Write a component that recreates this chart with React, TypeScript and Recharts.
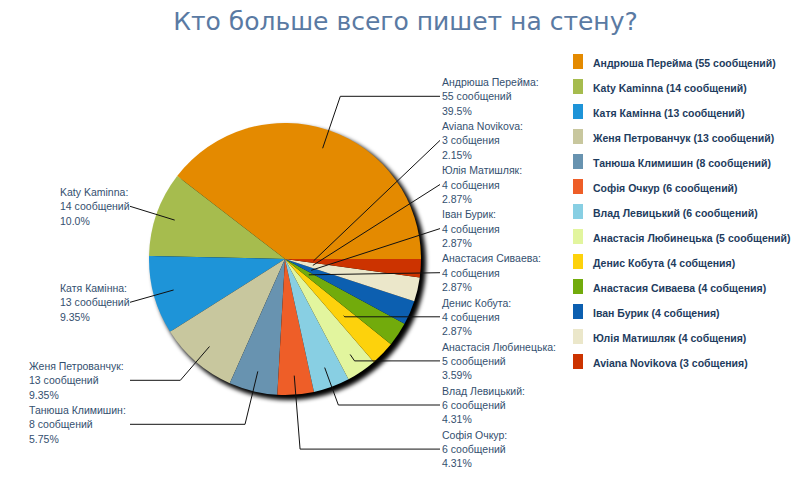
import { PieChart, Pie, Cell } from 'recharts'

const names = [
  'Андрюша Перейма',
  'Katy Kaminna',
  'Катя Камінна',
  'Женя Петрованчук',
  'Танюша Климишин',
  'Софія Очкур',
  'Влад Левицький',
  'Анастасія Любинецька',
  'Денис Кобута',
  'Анастасия Сиваева',
  'Іван Бурик',
  'Юлія Матишляк',
  'Aviana Novikova',
]
const counts = [55, 14, 13, 13, 8, 6, 6, 5, 4, 4, 4, 4, 3]
const units = [
  'сообщений', 'сообщений', 'сообщений', 'сообщений', 'сообщений', 'сообщений',
  'сообщений', 'сообщений', 'собщения', 'собщения', 'собщения', 'собщения', 'собщения',
]
const COLORS = [
  '#E48A00', '#A6BC4E', '#1E94D8', '#C8C79E', '#6893B0', '#EE5E28', '#88CFE3',
  '#E2F59E', '#FDD20C', '#72AB0C', '#0C5FB0', '#EBE7CA', '#CC3300',
]

const total = counts.reduce((a, b) => a + b, 0)
const data = names.map((name, i) => ({ name, value: counts[i] }))

// truncated to 3 significant digits, like the original
const fmtPct = (v: number) => {
  const p = (v / total) * 100
  const d = p >= 10 ? 1 : 2
  const k = Math.pow(10, d)
  return (Math.floor(p * k) / k).toFixed(d) + '%'
}

// label layout
const CX = 285
const CY = 259
const R = 136
const anchorFrac = [0.86, 0.86, 0.85, 0.85, 0.85, 0.86, 0.85, 0.85, 0.6, 0.21, 0.21, 0.21, 0.21]
const RIGHT_ORDER = [0, 12, 11, 10, 9, 8, 7, 6, 5]
const LEFT_POS: Record<number, { x: number; y: number }> = {
  1: { x: 60, y: 192 },
  2: { x: 60, y: 288 },
  3: { x: 29, y: 366 },
  4: { x: 29, y: 410 },
}
const RIGHT_X = 442
const LEFT_LINE_X = 130
const LINE_H = 14.3
const TEXT_COLOR = '#34506f'
const LABEL_FONT = '"Liberation Sans", Arial, sans-serif'
const TITLE_FONT = '"DejaVu Sans", Verdana, sans-serif'

const RADIAN = Math.PI / 180

function renderLabel(props: any) {
  const { cx, cy, midAngle, outerRadius, index } = props
  const r = outerRadius * anchorFrac[index]
  const dx = Math.cos(-midAngle * RADIAN)
  const dy = Math.sin(-midAngle * RADIAN)
  const ax = cx + r * dx
  const ay = cy + r * dy

  const isLeft = LEFT_POS[index] !== undefined
  const tx = isLeft ? LEFT_POS[index].x : RIGHT_X
  const ty = isLeft ? LEFT_POS[index].y : 82 + RIGHT_ORDER.indexOf(index) * 44.1
  const lineY = ty + LINE_H
  const endX = isLeft ? LEFT_LINE_X : RIGHT_X - 2

  let points = `${ax},${ay} ${endX},${lineY}`
  const t = Math.abs(dy) > 0.01 ? (lineY - ay) / dy : -1
  if (t >= 0) {
    let ex = ax + t * dx
    if (isLeft) ex = Math.min(ex, ax)
    const ok = isLeft ? ex > endX + 8 : ex < endX - 2
    if (ok) {
      if (isLeft) ex = Math.max(ex, endX + 10)
      points = `${ax},${ay} ${ex},${lineY} ${endX},${lineY}`
    }
  }

  return (
    <g key={`lbl-${index}`}>
      <polyline points={points} fill="none" stroke="#111" strokeWidth={1} />
      <text x={tx} y={ty + 4} fill={TEXT_COLOR} fontSize={10.5} fontFamily={LABEL_FONT}>
        <tspan x={tx}>{names[index]}:</tspan>
        <tspan x={tx} dy={LINE_H}>{`${counts[index]} ${units[index]}`}</tspan>
        <tspan x={tx} dy={LINE_H}>{fmtPct(counts[index])}</tspan>
      </text>
    </g>
  )
}

export default function App() {
  return (
    <div style={{ position: 'absolute', left: 0, top: 0, width: 800, height: 500, background: '#fff' }}>
      <div
        style={{
          position: 'absolute',
          left: 0,
          width: 811,
          top: 7,
          textAlign: 'center',
          fontFamily: TITLE_FONT,
          fontSize: 25,
          color: '#5a7aa3',
        }}
      >
        Кто больше всего пишет на стену?
      </div>

      <PieChart width={800} height={500} margin={{ top: 0, right: 0, bottom: 0, left: 0 }}>
        <defs>
          <filter id="pieShadow" x="-20%" y="-20%" width="140%" height="140%">
            <feGaussianBlur stdDeviation="2" />
          </filter>
        </defs>
        <Pie
          data={[{ name: 'shadow', value: 1 }]}
          dataKey="value"
          cx={CX + 4}
          cy={CY + 4}
          outerRadius={R + 1}
          startAngle={0}
          endAngle={360}
          stroke="none"
          isAnimationActive={false}
          legendType="none"
        >
          <Cell fill="#000" filter="url(#pieShadow)" />
        </Pie>
        <Pie
          data={data}
          dataKey="value"
          nameKey="name"
          cx={CX}
          cy={CY}
          outerRadius={R}
          startAngle={0}
          endAngle={360}
          stroke="none"
          label={renderLabel}
          labelLine={false}
          isAnimationActive={false}
        >
          {data.map((d, i) => (
            <Cell key={d.name} fill={COLORS[i]} />
          ))}
        </Pie>
      </PieChart>

      <div style={{ position: 'absolute', left: 573, top: 54 }}>
        {names.map((n, i) => (
          <div key={n} style={{ display: 'flex', height: 25 }}>
            <div style={{ width: 10, height: 15, background: COLORS[i], marginRight: 10 }} />
            <span
              style={{
                fontFamily: LABEL_FONT,
                fontWeight: 'bold',
                fontSize: 10.5,
                color: '#1e3c5e',
                lineHeight: '19px',
                whiteSpace: 'nowrap',
              }}
            >
              {`${n} (${counts[i]} ${units[i]})`}
            </span>
          </div>
        ))}
      </div>
    </div>
  )
}
